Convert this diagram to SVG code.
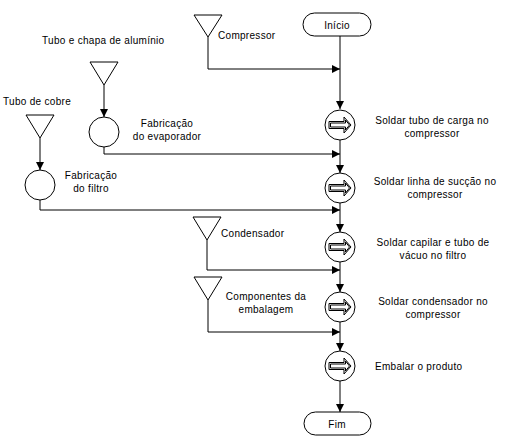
<svg xmlns="http://www.w3.org/2000/svg" width="526" height="447" viewBox="0 0 526 447">
<defs>
<style>
.s{fill:none;stroke:#000;stroke-width:1}
.n{fill:#fff;stroke:#000;stroke-width:1}
text{font-family:"Liberation Sans",Arial,sans-serif;font-size:10px;fill:#000;letter-spacing:0.3px}
.c{text-anchor:middle}
</style>
<marker id="ah" viewBox="0 0 10 10" refX="10" refY="5" markerWidth="8" markerHeight="8" markerUnits="userSpaceOnUse" orient="auto">
<path d="M0,0 L10,5 L0,10 Z" fill="#000"/>
</marker>
<g id="op">
<circle cx="0" cy="0" r="15" class="n"/>
<path d="M-11,-3.5 H4 V-8 L11,0 L4,8 V3.5 H-11 Z" class="s"/>
<path d="M-9.5,-2 H5.5 V-5 L9.5,0 L5.5,5 V2 H-9.5 Z" class="s" stroke-width="0.6"/>
</g>
</defs>
<rect width="526" height="447" fill="#fff"/>
<g id="connectors">
<line x1="340" y1="36" x2="340" y2="109" class="s" marker-end="url(#ah)"/>
<polyline points="208,37 208,69 340,69" class="s" marker-end="url(#ah)"/>
<line x1="104" y1="85" x2="104" y2="117" class="s" marker-end="url(#ah)"/>
<polyline points="104,147 104,154 340,154" class="s" marker-end="url(#ah)"/>
<line x1="340" y1="140" x2="340" y2="173" class="s" marker-end="url(#ah)"/>
<line x1="40" y1="138" x2="40" y2="170" class="s" marker-end="url(#ah)"/>
<polyline points="40,200 40,210 340,210" class="s" marker-end="url(#ah)"/>
<line x1="340" y1="203" x2="340" y2="232" class="s" marker-end="url(#ah)"/>
<polyline points="207,240 207,270 340,270" class="s" marker-end="url(#ah)"/>
<line x1="340" y1="262" x2="340" y2="292" class="s" marker-end="url(#ah)"/>
<polyline points="208,300 208,332 340,332" class="s" marker-end="url(#ah)"/>
<line x1="340" y1="322" x2="340" y2="351" class="s" marker-end="url(#ah)"/>
<line x1="340" y1="381" x2="340" y2="412" class="s" marker-end="url(#ah)"/>
</g>
<g id="inicio">
<rect x="303" y="13" width="68" height="23" rx="11.5" class="n"/>
<text x="337" y="28.5" class="c">Início</text>
</g>
<g id="compressor">
<polygon points="194,15 222,15 208,37" class="n"/>
<text x="218" y="39">Compressor</text>
</g>
<g id="aluminio">
<polygon points="90,62 118,62 104,85" class="n"/>
<text x="42" y="44">Tubo e chapa de alumínio</text>
</g>
<g id="fab-evap">
<circle cx="104" cy="132" r="15" class="n"/>
<text x="167" y="126.5" class="c">Fabricação</text>
<text x="167" y="139.5" class="c">do evaporador</text>
</g>
<g id="cobre">
<polygon points="26,115 54,115 40,138" class="n"/>
<text x="3" y="104.5">Tubo de cobre</text>
</g>
<g id="fab-filtro">
<circle cx="40" cy="185" r="15" class="n"/>
<text x="91" y="178.5" class="c">Fabricação</text>
<text x="91" y="191.5" class="c">do filtro</text>
</g>
<g id="op1">
<use href="#op" x="340" y="125"/>
<text x="432" y="123.5" class="c">Soldar tubo de carga no</text>
<text x="432" y="136.5" class="c">compressor</text>
</g>
<g id="op2">
<use href="#op" x="340" y="188"/>
<text x="435" y="184.5" class="c">Soldar linha de sucção no</text>
<text x="435" y="197.5" class="c">compressor</text>
</g>
<g id="condensador">
<polygon points="193,217 221,217 207,240" class="n"/>
<text x="221" y="236.5">Condensador</text>
</g>
<g id="op3">
<use href="#op" x="340" y="247"/>
<text x="433" y="245.5" class="c">Soldar capilar e tubo de</text>
<text x="433" y="258.5" class="c">vácuo no filtro</text>
</g>
<g id="embalagem">
<polygon points="194,277 222,277 208,300" class="n"/>
<text x="266" y="299.5" class="c">Componentes da</text>
<text x="266" y="312.5" class="c">embalagem</text>
</g>
<g id="op4">
<use href="#op" x="340" y="307"/>
<text x="433" y="304.5" class="c">Soldar condensador no</text>
<text x="433" y="317.5" class="c">compressor</text>
</g>
<g id="op5">
<use href="#op" x="340" y="366"/>
<text x="375" y="369.5">Embalar o produto</text>
</g>
<g id="fim">
<rect x="304" y="412" width="67" height="23" rx="11.5" class="n"/>
<text x="337" y="427.5" class="c">Fim</text>
</g>
</svg>
